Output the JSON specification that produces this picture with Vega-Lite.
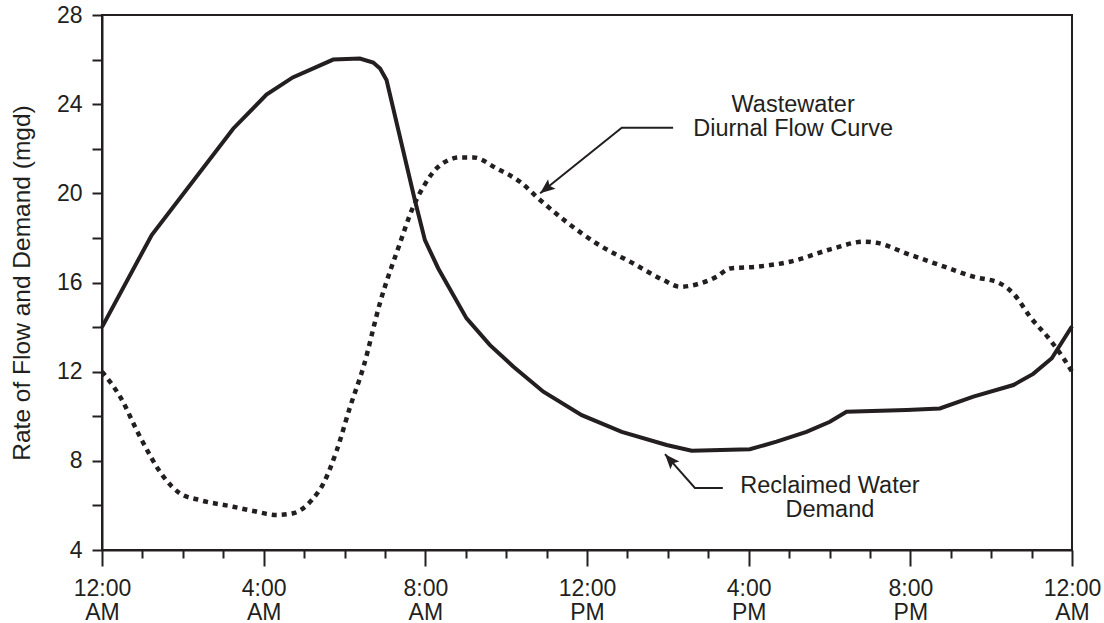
{
  "$schema": "https://vega.github.io/schema/vega-lite/v6.json",
  "width": 970,
  "height": 535,
  "autosize": {"type": "none"},
  "padding": {"left": 102, "top": 15, "right": 32, "bottom": 73},
  "background": "white",
  "config": {
    "view": {"stroke": "#231f20", "strokeWidth": 2},
    "font": "Liberation Sans",
    "axis": {
      "domainColor": "#231f20", "domainWidth": 2,
      "tickColor": "#231f20", "tickWidth": 2,
      "labelColor": "#231f20", "titleColor": "#231f20",
      "grid": false,
      "labelFont": "Liberation Sans", "titleFont": "Liberation Sans",
      "labelFontSize": 23, "titleFontWeight": "normal",
      "labelOverlap": false, "labelFlush": false, "labelBound": false
    }
  },
  "datasets": {
    "demand": [
      {"hour": 0, "mgd": 14.0}, {"hour": 1.23, "mgd": 18.13}, {"hour": 3.25, "mgd": 22.91},
      {"hour": 4.07, "mgd": 24.43}, {"hour": 4.72, "mgd": 25.2}, {"hour": 5.72, "mgd": 26.0},
      {"hour": 6.38, "mgd": 26.05}, {"hour": 6.71, "mgd": 25.87}, {"hour": 6.88, "mgd": 25.6},
      {"hour": 7.04, "mgd": 25.08}, {"hour": 7.74, "mgd": 19.7}, {"hour": 7.99, "mgd": 17.9},
      {"hour": 8.32, "mgd": 16.63}, {"hour": 9.02, "mgd": 14.39}, {"hour": 9.6, "mgd": 13.19},
      {"hour": 10.18, "mgd": 12.22}, {"hour": 10.92, "mgd": 11.1}, {"hour": 11.87, "mgd": 10.05},
      {"hour": 12.86, "mgd": 9.3}, {"hour": 13.97, "mgd": 8.71}, {"hour": 14.59, "mgd": 8.45},
      {"hour": 16.03, "mgd": 8.52}, {"hour": 16.69, "mgd": 8.86}, {"hour": 17.43, "mgd": 9.3},
      {"hour": 18.01, "mgd": 9.75}, {"hour": 18.42, "mgd": 10.2}, {"hour": 19.91, "mgd": 10.28},
      {"hour": 20.73, "mgd": 10.35}, {"hour": 21.56, "mgd": 10.88}, {"hour": 22.55, "mgd": 11.4},
      {"hour": 23.04, "mgd": 11.9}, {"hour": 23.5, "mgd": 12.6}, {"hour": 24.0, "mgd": 14.04}
    ],
    "flow": [
      {"hour": 0, "mgd": 12.0}, {"hour": 0.45, "mgd": 10.87}, {"hour": 0.94, "mgd": 9.08},
      {"hour": 1.52, "mgd": 7.29}, {"hour": 1.93, "mgd": 6.54}, {"hour": 2.42, "mgd": 6.24},
      {"hour": 3.25, "mgd": 5.94}, {"hour": 3.74, "mgd": 5.75}, {"hour": 4.32, "mgd": 5.57},
      {"hour": 4.73, "mgd": 5.65}, {"hour": 5.19, "mgd": 6.24}, {"hour": 5.48, "mgd": 6.99},
      {"hour": 5.81, "mgd": 8.48}, {"hour": 6.14, "mgd": 10.43}, {"hour": 6.47, "mgd": 12.22},
      {"hour": 6.88, "mgd": 15.1}, {"hour": 7.37, "mgd": 17.75}, {"hour": 7.7, "mgd": 19.4},
      {"hour": 7.95, "mgd": 20.29}, {"hour": 8.32, "mgd": 21.19}, {"hour": 8.86, "mgd": 21.61},
      {"hour": 9.19, "mgd": 21.61}, {"hour": 9.77, "mgd": 21.11}, {"hour": 10.34, "mgd": 20.52},
      {"hour": 10.84, "mgd": 19.7}, {"hour": 11.49, "mgd": 18.72}, {"hour": 12.24, "mgd": 17.75},
      {"hour": 13.15, "mgd": 16.85}, {"hour": 13.89, "mgd": 16.11}, {"hour": 14.3, "mgd": 15.81},
      {"hour": 14.8, "mgd": 15.96}, {"hour": 15.21, "mgd": 16.26}, {"hour": 15.54, "mgd": 16.63},
      {"hour": 16.2, "mgd": 16.71}, {"hour": 17.02, "mgd": 16.93}, {"hour": 18.1, "mgd": 17.53},
      {"hour": 18.84, "mgd": 17.83}, {"hour": 19.17, "mgd": 17.78}, {"hour": 19.91, "mgd": 17.3},
      {"hour": 20.73, "mgd": 16.78}, {"hour": 21.56, "mgd": 16.26}, {"hour": 22.22, "mgd": 15.96},
      {"hour": 22.6, "mgd": 15.4}, {"hour": 22.96, "mgd": 14.47}, {"hour": 23.46, "mgd": 13.42},
      {"hour": 23.79, "mgd": 12.6}, {"hour": 24.0, "mgd": 12.0}
    ],
    "leaders": [
      {"group": "flow", "seq": 1, "hour": 14.13, "mgd": 22.94},
      {"group": "flow", "seq": 2, "hour": 12.86, "mgd": 22.94},
      {"group": "flow", "seq": 3, "hour": 10.84, "mgd": 20.0},
      {"group": "demand", "seq": 1, "hour": 15.36, "mgd": 6.78},
      {"group": "demand", "seq": 2, "hour": 14.67, "mgd": 6.78},
      {"group": "demand", "seq": 3, "hour": 13.93, "mgd": 8.3}
    ],
    "labels": [
      {"hour": 17.1, "mgd": 23.65, "label": "Wastewater"},
      {"hour": 17.1, "mgd": 22.58, "label": "Diurnal Flow Curve"},
      {"hour": 18.01, "mgd": 6.56, "label": "Reclaimed Water"},
      {"hour": 18.01, "mgd": 5.48, "label": "Demand"}
    ],
    "arrowFlow": [{"hour": 10.84, "mgd": 20.0}],
    "arrowDemand": [{"hour": 13.93, "mgd": 8.3}]
  },
  "layer": [
    {
      "data": {"name": "flow"},
      "mark": {"type": "line", "stroke": "#231f20", "strokeWidth": 4.5, "strokeDash": [5, 5], "interpolate": "monotone"},
      "encoding": {
        "x": {
          "field": "hour", "type": "quantitative",
          "scale": {"domain": [0, 24], "nice": false, "zero": false},
          "axis": {
            "title": null,
            "values": [0,1,2,3,4,5,6,7,8,9,10,11,12,13,14,15,16,17,18,19,20,21,22,23,24],
            "tickSize": {"condition": {"test": "datum.value % 4 === 0", "value": 16}, "value": 8},
            "labelPadding": 11,
            "labelLineHeight": 24,
            "labelExpr": "datum.value % 4 !== 0 ? '' : [(datum.value % 12 === 0 ? '12' : '' + (datum.value % 12)) + ':00', (datum.value >= 12 && datum.value < 24) ? 'PM' : 'AM']"
          }
        },
        "y": {
          "field": "mgd", "type": "quantitative",
          "scale": {"domain": [4, 28], "nice": false, "zero": false},
          "axis": {
            "title": "Rate of Flow and Demand (mgd)",
            "titleFontSize": 24.5,
            "titlePadding": 22,
            "values": [4,6,8,10,12,14,16,18,20,22,24,26,28],
            "tickSize": 10,
            "labelPadding": 10,
            "labelExpr": "datum.value % 4 === 0 ? datum.label : ''"
          }
        }
      }
    },
    {
      "data": {"name": "demand"},
      "mark": {"type": "line", "stroke": "#231f20", "strokeWidth": 4},
      "encoding": {
        "x": {"field": "hour", "type": "quantitative"},
        "y": {"field": "mgd", "type": "quantitative"}
      }
    },
    {
      "data": {"name": "leaders"},
      "mark": {"type": "line", "stroke": "#231f20", "strokeWidth": 2},
      "encoding": {
        "x": {"field": "hour", "type": "quantitative"},
        "y": {"field": "mgd", "type": "quantitative"},
        "detail": {"field": "group"},
        "order": {"field": "seq"}
      }
    },
    {
      "data": {"name": "arrowFlow"},
      "mark": {"type": "point", "shape": "M0,0 L-1.2,3 L0,2.4 L1.2,3 Z", "size": 100, "filled": true, "fill": "#231f20", "stroke": null, "opacity": 1, "angle": 231.3},
      "encoding": {
        "x": {"field": "hour", "type": "quantitative"},
        "y": {"field": "mgd", "type": "quantitative"}
      }
    },
    {
      "data": {"name": "arrowDemand"},
      "mark": {"type": "point", "shape": "M0,0 L-1.2,3 L0,2.4 L1.2,3 Z", "size": 100, "filled": true, "fill": "#231f20", "stroke": null, "opacity": 1, "angle": 318.6},
      "encoding": {
        "x": {"field": "hour", "type": "quantitative"},
        "y": {"field": "mgd", "type": "quantitative"}
      }
    },
    {
      "data": {"name": "labels"},
      "mark": {"type": "text", "font": "Liberation Sans", "fontSize": 23.5, "align": "center", "baseline": "alphabetic", "color": "#231f20"},
      "encoding": {
        "x": {"field": "hour", "type": "quantitative"},
        "y": {"field": "mgd", "type": "quantitative"},
        "text": {"field": "label"}
      }
    }
  ]
}
